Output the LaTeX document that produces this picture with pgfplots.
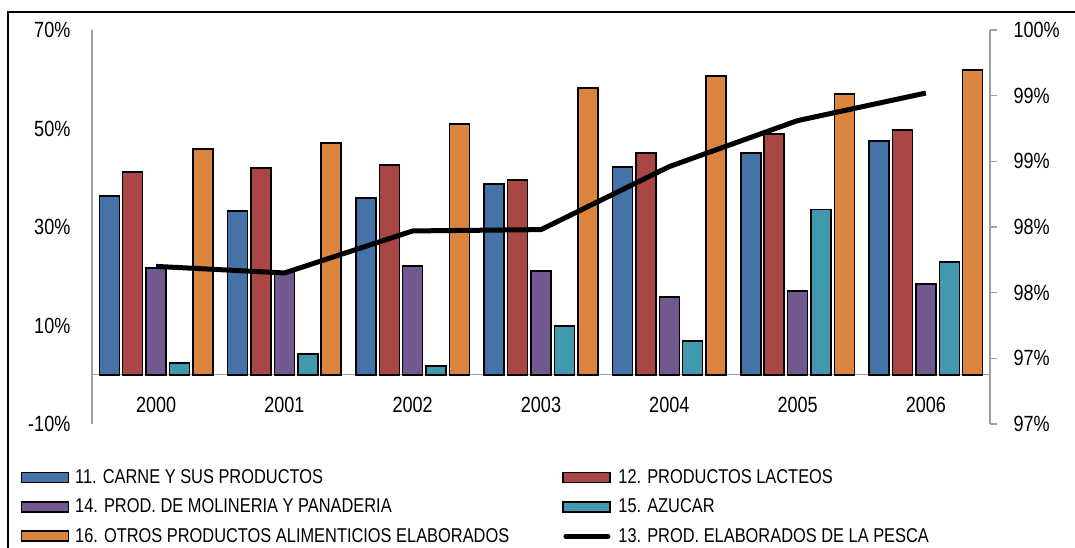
\documentclass[border=0pt]{standalone}
\usepackage{fontspec}
\setmainfont{Liberation Sans}[FakeStretch=0.82]
\usepackage{pgfplots}
\pgfplotsset{compat=1.18}
\definecolor{cA}{HTML}{4572A7}
\definecolor{cB}{HTML}{AA4643}
\definecolor{cC}{HTML}{71588F}
\definecolor{cD}{HTML}{4198AF}
\definecolor{cE}{HTML}{DB843D}
\definecolor{axgray}{HTML}{A0A0A0}
\begin{document}
\begin{tikzpicture}
\useasboundingbox (-92pt,-124pt) rectangle (983pt,424pt);
\draw[line width=1.5pt] (-84pt,-124pt) -- (-84pt,412pt) -- (983pt,412pt);
\begin{axis}[
  at={(0,0)}, anchor=south west,
  scale only axis, width=898pt, height=394pt,
  xmin=-0.5, xmax=6.5, ymin=-10, ymax=70,
  ybar=3.4pt, bar width=20pt,
  axis x line=middle, axis y line=left,
  every inner x axis line/.append style={-},
  every outer y axis line/.append style={-},
  axis line style={-, draw=axgray, line width=1.2pt},
  xtick={0,1,2,3,4,5,6}, xticklabels={2000,2001,2002,2003,2004,2005,2006},
  hide obscured x ticks=false,
  xtick style={draw=none}, ytick style={draw=none},
  xticklabel style={yshift=-17pt},
  ytick={-10,10,30,50,70}, yticklabels={-10\%,10\%,30\%,50\%,70\%},
  yticklabel style={xshift=-16pt},
  ticklabel style={font=\fontsize{22}{26}\selectfont},
  legend columns=2,
  legend cell align=left,
  legend style={draw=none, fill=none, at={(axis description cs:-0.083,-0.105)}, anchor=north west,
    font=\fontsize{20}{24}\selectfont, row sep=10pt},
  legend image code/.code={\draw[#1, line width=1.5pt] (0pt,-5pt) rectangle (47pt,5pt); \path (51pt,0pt);},
]
\addplot[fill=cA, draw=black, line width=1.5pt] coordinates {(0,36.3) (1,33.2) (2,35.9) (3,38.7) (4,42.2) (5,45.0) (6,47.5)};
\addlegendentry{\makebox[485pt][l]{11. CARNE Y SUS PRODUCTOS}}
\addplot[fill=cB, draw=black, line width=1.5pt] coordinates {(0,41.2) (1,42.0) (2,42.6) (3,39.5) (4,45.0) (5,48.9) (6,49.7)};
\addlegendentry{12. PRODUCTOS LACTEOS}
\addplot[fill=cC, draw=black, line width=1.5pt] coordinates {(0,21.7) (1,20.8) (2,22.1) (3,21.1) (4,15.8) (5,17.0) (6,18.4)};
\addlegendentry{\makebox[485pt][l]{14. PROD. DE MOLINERIA Y PANADERIA}}
\addplot[fill=cD, draw=black, line width=1.5pt] coordinates {(0,2.4) (1,4.2) (2,1.8) (3,9.9) (4,6.9) (5,33.6) (6,22.9)};
\addlegendentry{15. AZUCAR}
\addplot[fill=cE, draw=black, line width=1.5pt] coordinates {(0,45.8) (1,47.1) (2,50.9) (3,58.2) (4,60.7) (5,57.0) (6,61.9)};
\addlegendentry{\makebox[485pt][l]{16. OTROS PRODUCTOS ALIMENTICIOS ELABORADOS}}
\addlegendimage{black, line width=5pt, line cap=round, legend image code/.code={\draw[black, line width=5pt, line cap=round] (3pt,0pt) -- (45pt,0pt); \path (51pt,0pt);}}
\addlegendentry{13. PROD. ELABORADOS DE LA PESCA}
\end{axis}
\begin{axis}[
  at={(0,0)}, anchor=south west,
  scale only axis, width=898pt, height=394pt,
  xmin=-0.5, xmax=6.5, ymin=96.75, ymax=99.75,
  axis x line=none, axis y line*=right,
  every outer y axis line/.append style={-},
  axis line style={-, draw=axgray, line width=1.2pt},
  ytick={96.75,97.25,97.75,98.25,98.75,99.25,99.75},
  yticklabels={97\%,97\%,98\%,98\%,99\%,99\%,100\%},
  tick align=outside, major tick length=7pt,
  ytick style={draw=axgray, line width=1.2pt},
  yticklabel style={xshift=13pt},
  ticklabel style={font=\fontsize{22}{26}\selectfont},
]
\addplot[black, line width=5pt, line join=round, mark=none] coordinates {(0,97.95) (1,97.90) (2,98.22) (3,98.23) (4,98.71) (5,99.06) (6,99.27)};
\end{axis}
\end{tikzpicture}
\end{document}
